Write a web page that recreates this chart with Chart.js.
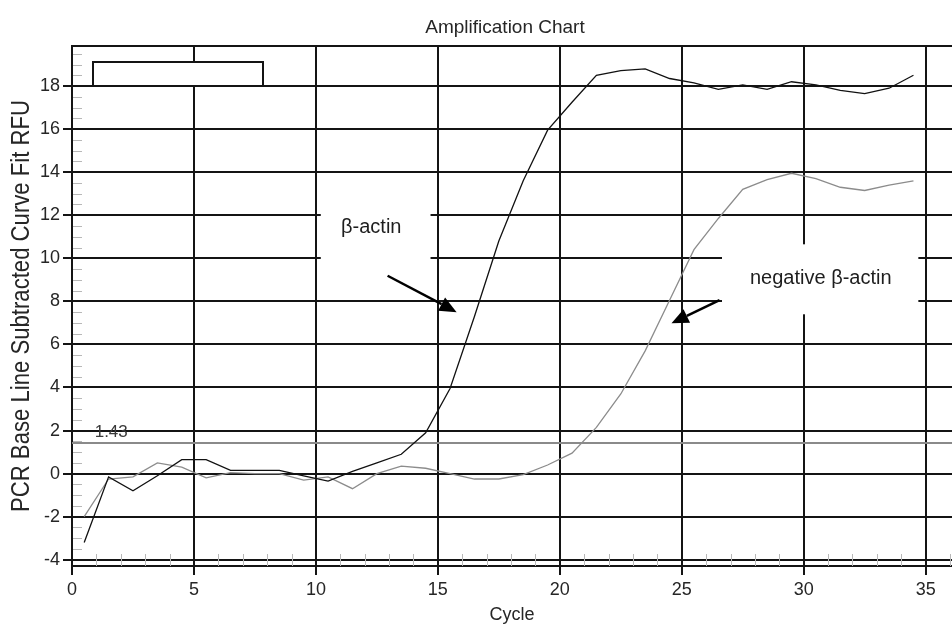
<!DOCTYPE html>
<html>
<head>
<meta charset="utf-8">
<title>Amplification Chart</title>
<script src="https://cdn.jsdelivr.net/npm/chart.js@4/dist/chart.umd.min.js"></script>
<style>
  html, body { margin: 0; padding: 0; background: #fff; }
  #wrap { width: 952px; height: 626px; }
</style>
</head>
<body>
<div id="wrap"><canvas id="amp" width="952" height="626"></canvas></div>
<script>
// Cycle positions of the readings
const cycles = [0.5, 1.5, 2.5, 3.5, 4.5, 5.5, 6.5, 7.5, 8.5, 9.5, 10.5, 11.5, 12.5, 13.5, 14.5, 15.5, 16.5, 17.5,
                18.5, 19.5, 20.5, 21.5, 22.5, 23.5, 24.5, 25.5, 26.5, 27.5, 28.5, 29.5, 30.5, 31.5, 32.5, 33.5, 34.5];

// Baseline-subtracted curve-fit RFU per cycle
const betaActinRFU = [-3.2, -0.15, -0.8, -0.1, 0.65, 0.65, 0.15, 0.15, 0.15, -0.1, -0.35, 0.1, 0.5, 0.9, 1.9, 3.95, 7.3,
                      10.8, 13.6, 15.95, 17.25, 18.5, 18.72, 18.8, 18.35, 18.15, 17.85, 18.05, 17.85, 18.2, 18.05, 17.8,
                      17.65, 17.9, 18.5];
const negativeBetaActinRFU = [-2.0, -0.25, -0.15, 0.5, 0.3, -0.2, 0.05, 0.0, 0.0, -0.3, -0.15, -0.7, 0.0, 0.35, 0.25, 0.0,
                              -0.25, -0.25, -0.05, 0.4, 0.95, 2.15, 3.7, 5.7, 8.05, 10.4, 11.85, 13.2, 13.65, 13.95, 13.7,
                              13.3, 13.15, 13.4, 13.6];

// Axis tick labels
const xTickValues = [0, 5, 10, 15, 20, 25, 30, 35];
const yTickValues = [-4, -2, 0, 2, 4, 6, 8, 10, 12, 14, 16, 18];

// Threshold line
const thresholdRFU = 1.43;

// Annotation labels
const seriesLabels = ['β-actin', 'negative β-actin'];

const FONT = "'Liberation Sans', Arial, Helvetica, sans-serif";
const GRID = '#141414';
const TEXT = '#262626';

function toPoints(xs, ys) { return xs.map((x, i) => ({ x, y: ys[i] })); }

function drawArrow(ctx, x1, y1, x2, y2) {
  const ang = Math.atan2(y2 - y1, x2 - x1);
  const L = 17, W = 7.5;
  const bx = x2 - L * Math.cos(ang), by = y2 - L * Math.sin(ang);
  ctx.beginPath(); ctx.moveTo(x1, y1); ctx.lineTo(bx, by); ctx.stroke();
  ctx.beginPath();
  ctx.moveTo(x2, y2);
  ctx.lineTo(bx + W * Math.sin(ang), by - W * Math.cos(ang));
  ctx.lineTo(bx - W * Math.sin(ang), by + W * Math.cos(ang));
  ctx.closePath(); ctx.fill();
}

// Minor ticks, threshold, frame, empty legend box, callout labels and titles
const decorations = {
  id: 'decorations',
  beforeDatasetsDraw(chart, args, o) {
    const { ctx, chartArea: a, scales: { x, y } } = chart;
    ctx.save();
    // light minor ticks
    ctx.strokeStyle = '#b8b8b8';
    ctx.lineWidth = 1;
    ctx.beginPath();
    for (let v = -4; v <= y.max; v += 0.5) {
      if (Math.abs(v % 2) < 1e-9) continue;
      const py = Math.round(y.getPixelForValue(v)) + 0.5;
      ctx.moveTo(a.left + 1, py); ctx.lineTo(a.left + 10, py);
    }
    for (let v = 1; v <= x.max; v += 1) {
      if (v % 5 === 0) continue;
      const px = Math.round(x.getPixelForValue(v)) + 0.5;
      ctx.moveTo(px, a.bottom - 12); ctx.lineTo(px, a.bottom);
    }
    ctx.stroke();
    // threshold line and value
    const ty = Math.round(y.getPixelForValue(thresholdRFU));
    ctx.strokeStyle = '#8a8a8a';
    ctx.lineWidth = 2;
    ctx.beginPath(); ctx.moveTo(a.left, ty); ctx.lineTo(a.right, ty); ctx.stroke();
    ctx.fillStyle = '#3a3a3a';
    ctx.font = '17px ' + FONT;
    ctx.textAlign = 'left';
    ctx.textBaseline = 'alphabetic';
    ctx.fillText(thresholdRFU.toFixed(2), x.getPixelForValue(0.93), ty - 6);
    // top frame edge
    ctx.strokeStyle = GRID;
    ctx.beginPath(); ctx.moveTo(a.left, a.top); ctx.lineTo(a.right, a.top); ctx.stroke();
    ctx.restore();
  },
  afterDatasetsDraw(chart, args, o) {
    const { ctx, scales: { x, y } } = chart;
    const box = (b) => ({
      l: x.getPixelForValue(b.x0), r: x.getPixelForValue(b.x1),
      t: y.getPixelForValue(b.y1), btm: y.getPixelForValue(b.y0)
    });
    ctx.save();
    // empty legend frame
    const lg = box(o.legendBox);
    ctx.fillStyle = '#fff';
    ctx.fillRect(lg.l, lg.t, lg.r - lg.l, lg.btm - lg.t);
    ctx.strokeStyle = GRID; ctx.lineWidth = 2;
    ctx.strokeRect(Math.round(lg.l), Math.round(lg.t), Math.round(lg.r - lg.l), Math.round(lg.btm - lg.t));
    // callouts
    for (const c of o.callouts) {
      const b = box(c.box);
      ctx.fillStyle = '#fff';
      ctx.fillRect(b.l, b.t, b.r - b.l, b.btm - b.t);
      ctx.fillStyle = '#1e1e1e';
      ctx.font = '20px ' + FONT;
      ctx.textAlign = 'center';
      ctx.textBaseline = 'middle';
      ctx.fillText(c.text, x.getPixelForValue(c.textAt[0]), y.getPixelForValue(c.textAt[1]));
      ctx.strokeStyle = '#000'; ctx.fillStyle = '#000'; ctx.lineWidth = 2.5;
      drawArrow(ctx, x.getPixelForValue(c.from[0]), y.getPixelForValue(c.from[1]),
                     x.getPixelForValue(c.to[0]), y.getPixelForValue(c.to[1]));
    }
    ctx.restore();
  },
  afterDraw(chart, args, o) {
    const { ctx, chartArea: a } = chart;
    ctx.save();
    ctx.fillStyle = TEXT;
    ctx.font = '19px ' + FONT;
    ctx.textAlign = 'center';
    ctx.textBaseline = 'alphabetic';
    ctx.fillText(o.title, o.titleX, o.titleY);
    ctx.restore();
    // vertical axis title, set in a tall condensed face
    ctx.save();
    ctx.fillStyle = TEXT;
    ctx.font = '26px ' + FONT;
    ctx.textAlign = 'center';
    ctx.textBaseline = 'middle';
    ctx.translate(o.yTitleX, (a.top + a.bottom) / 2);
    ctx.rotate(-Math.PI / 2);
    const w = ctx.measureText(o.yTitle).width;
    ctx.scale(o.yTitleLength / w, 1);
    ctx.fillText(o.yTitle, 0, 0);
    ctx.restore();
  }
};

new Chart(document.getElementById('amp'), {
  type: 'line',
  data: {
    datasets: [
      {
        label: seriesLabels[0],
        data: toPoints(cycles, betaActinRFU),
        borderColor: '#111111',
        borderWidth: 1.3,
        pointRadius: 0,
        tension: 0,
        fill: false
      },
      {
        label: seriesLabels[1],
        data: toPoints(cycles, negativeBetaActinRFU),
        borderColor: '#8c8c8c',
        borderWidth: 1.3,
        pointRadius: 0,
        tension: 0,
        fill: false
      }
    ]
  },
  options: {
    responsive: false,
    animation: false,
    devicePixelRatio: 1,
    layout: { padding: { top: 46, left: 0, right: 0, bottom: 0 } },
    plugins: {
      legend: { display: false },
      title: { display: false },
      tooltip: { enabled: false },
      decorations: {
        title: 'Amplification Chart',
        titleX: 505,
        titleY: 33,
        yTitle: 'PCR Base Line Subtracted Curve Fit RFU',
        yTitleX: 22,
        yTitleLength: 412,
        legendBox: { x0: 0.85, x1: 7.8, y0: 18, y1: 19.12 },
        callouts: [
          { text: seriesLabels[0], box: { x0: 10.2, x1: 14.7, y0: 8.2, y1: 13.8 },
            textAt: [12.27, 11.45], from: [12.94, 9.19], to: [15.77, 7.5] },
          { text: seriesLabels[1], box: { x0: 26.65, x1: 34.7, y0: 7.4, y1: 10.65 },
            textAt: [30.7, 9.08], from: [26.55, 8.06], to: [24.58, 6.98] }
        ]
      }
    },
    scales: {
      x: {
        type: 'linear',
        min: 0,
        max: 36.08,
        afterBuildTicks: (s) => { s.ticks = xTickValues.map(v => ({ value: v })); },
        afterFit: (s) => { s.height = 60; },
        grid: { color: GRID, lineWidth: 2, tickLength: 9, drawTicks: true },
        border: { color: GRID, width: 2 },
        ticks: { color: TEXT, font: { family: FONT, size: 18 }, padding: 4, maxRotation: 0, autoSkip: false },
        title: { display: true, text: 'Cycle', color: TEXT, font: { family: FONT, size: 18 }, padding: { top: 1, bottom: 0 } }
      },
      y: {
        type: 'linear',
        min: -4.29,
        max: 19.86,
        afterBuildTicks: (s) => { s.ticks = yTickValues.map(v => ({ value: v })); },
        afterFit: (s) => { s.width = 72; },
        grid: { color: GRID, lineWidth: 2, tickLength: 9, drawTicks: true },
        border: { color: GRID, width: 2 },
        ticks: { color: TEXT, font: { family: FONT, size: 18 }, padding: 3, autoSkip: false },
        title: { display: false }
      }
    }
  },
  plugins: [decorations]
});
</script>
</body>
</html>
